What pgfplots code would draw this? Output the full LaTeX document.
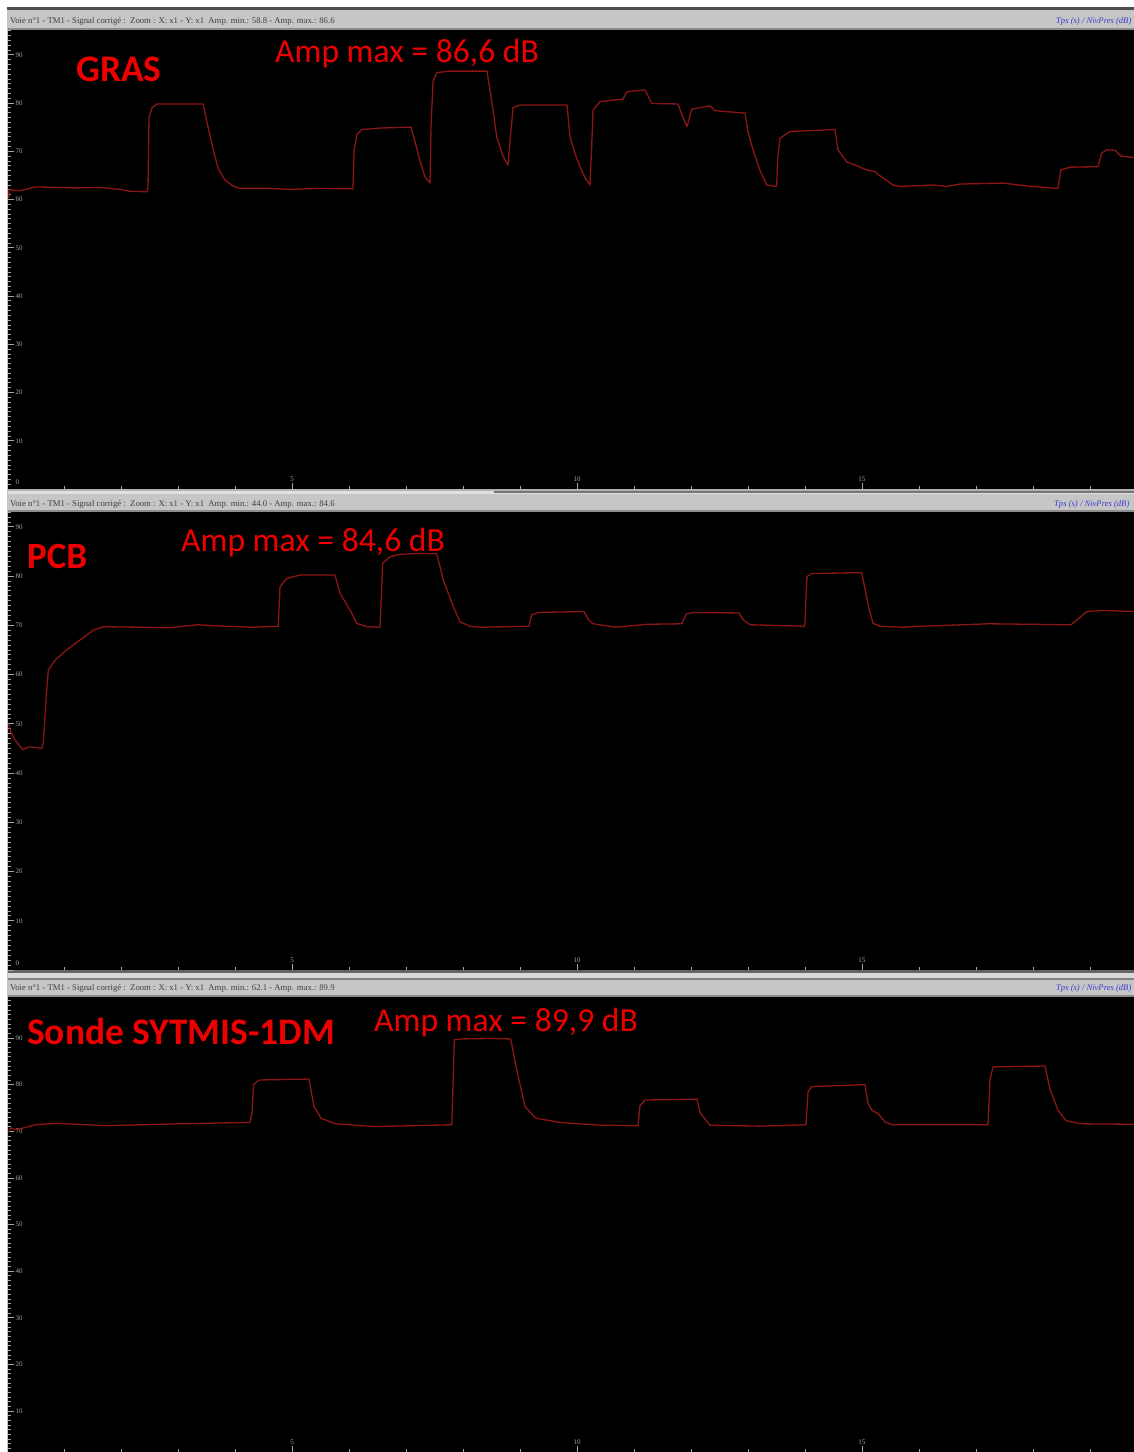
\documentclass[border=0pt]{standalone}
\usepackage{pgfplots}
\pgfplotsset{compat=1.18}
\usepackage{fontspec}
\setmainfont{Liberation Serif}
\newfontfamily\calib{Carlito}

\definecolor{trace}{RGB}{140,22,22}
\definecolor{lbl}{RGB}{238,0,0}
\definecolor{barbg}{RGB}{198,198,198}
\definecolor{tickgray}{RGB}{165,165,165}
\definecolor{hdrblue}{RGB}{60,60,210}

% acquisition window: black screen, ruler ticks on the left and bottom
\pgfplotsset{
  oscillo/.style={
    scale only axis, width=1126pt,
    xmin=0.0175, xmax=19.772,
    axis background/.style={fill=black},
    axis x line*=bottom, axis y line*=left,
    axis line style={draw=none},
    tick align=inside,
    xtick={5,10,15}, minor xtick={1,2,...,19},
    ytick={10,20,...,90}, minor ytick={1,2,...,99},
    major tick length=6pt, minor tick length=3pt,
    every tick/.style={draw=tickgray, line width=0.7pt},
    tick label style={font=\fontsize{7}{8}\selectfont, text=tickgray},
    /pgf/number format/assume math mode=true,
    yticklabel style={anchor=west, xshift=4pt},
    xticklabel style={anchor=south, yshift=4pt},
    clip=true,
  },
  zerolabel/.style={
    extra y ticks={0},
    extra y tick style={yticklabel style={anchor=south west, yshift=1pt}},
  },
  sig/.style={trace, line width=1.3pt, line join=round},
}

\begin{document}
\begin{tikzpicture}[x=1pt,y=1pt]
\path[use as bounding box] (0,0) rectangle (1134,1452);
\clip (0,0) rectangle (1134,1452);
\fill[white] (0,0) rectangle (1134,1452);
\fill[gray!45] (6.5,0) rectangle (8.5,1444);

% window title bars
\fill[black!70] (7,1442) rectangle (1134,1444.5);
\fill[barbg] (8,1422) rectangle (1134,1442);
\fill[black!45] (8,1422) rectangle (1134,1424);

\fill[gray!60] (8,961) rectangle (1134,963);
\fill[gray!25] (8,958) rectangle (1134,961);
\fill[black!55] (494,958.5) rectangle (1134,960.5);
\fill[barbg] (8,942) rectangle (1134,958);
\fill[black!45] (8,940) rectangle (1134,942);

\fill[black!60] (8,479) rectangle (1134,482);
\fill[gray!30] (8,474) rectangle (1134,479);
\fill[black!50] (8,472) rectangle (1134,474);
\fill[barbg] (8,457) rectangle (1134,472);
\fill[black!45] (8,455) rectangle (1134,457);

\begin{scope}[every node/.style={inner sep=0pt, anchor=base west}]
\node[font=\fontsize{8.7}{10}\selectfont, text=black!75] at (10,1428)
  {Voie n°1 - TM1 - Signal corrigé :\ \ Zoom : X: x1 - Y: x1\ \ Amp. min.: 58.8 - Amp. max.: 86.6};
\node[font=\fontsize{8.7}{10}\selectfont, text=black!75] at (10,945)
  {Voie n°1 - TM1 - Signal corrigé :\ \ Zoom : X: x1 - Y: x1\ \ Amp. min.: 44.0 - Amp. max.: 84.6};
\node[font=\fontsize{8.7}{10}\selectfont, text=black!75] at (10,461)
  {Voie n°1 - TM1 - Signal corrigé :\ \ Zoom : X: x1 - Y: x1\ \ Amp. min.: 62.1 - Amp. max.: 89.9};
\node[font=\fontsize{8.6}{10}\selectfont\itshape, text=hdrblue] at (1056,1428) {Tps (s) / NivPres (dB)};
\node[font=\fontsize{8.6}{10}\selectfont\itshape, text=hdrblue] at (1054,945) {Tps (s) / NivPres (dB)};
\node[font=\fontsize{8.6}{10}\selectfont\itshape, text=hdrblue] at (1056,461) {Tps (s) / NivPres (dB)};
\end{scope}

% ---- GRAS ----
\begin{axis}[oscillo, zerolabel, at={(8pt,963pt)}, anchor=south west,
  height=459pt, ymin=0, ymax=95.13]
\addplot[sig] coordinates {
 (0.030,60.3) (0.035,62.0) (0.228,61.8) (0.491,62.6) (0.930,62.5) (1.193,62.4)
 (1.632,62.5) (1.982,62.1) (2.158,61.7) (2.456,61.6) (2.474,62.5) (2.491,77.0)
 (2.544,79.0) (2.632,79.8) (3.439,79.8) (3.526,75.1) (3.614,70.5) (3.702,66.5)
 (3.825,64.0) (3.965,62.8) (4.088,62.3) (4.614,62.3) (4.965,62.1) (5.491,62.3)
 (6.070,62.2) (6.088,70.0) (6.140,73.5) (6.228,74.5) (6.544,74.8) (7.088,75.0)
 (7.158,72.0) (7.246,68.0) (7.333,64.7) (7.421,63.4) (7.439,75.0) (7.474,84.5)
 (7.544,86.3) (7.772,86.6) (8.421,86.6) (8.509,80.0) (8.591,73.0) (8.702,69.0)
 (8.789,67.1) (8.825,72.0) (8.877,79.0) (9.000,79.6) (9.825,79.6) (9.877,73.0)
 (9.965,69.5) (10.053,66.8) (10.140,64.5) (10.228,63.0) (10.254,70.0) (10.281,78.5)
 (10.404,80.3) (10.807,80.8) (10.872,82.3) (11.193,82.7) (11.246,81.5) (11.311,79.9)
 (11.772,79.8) (11.842,77.5) (11.930,75.1) (12.012,78.7) (12.333,79.4) (12.421,78.4)
 (12.947,77.9) (13.000,74.0) (13.088,70.3) (13.211,66.0) (13.328,63.0) (13.504,62.7)
 (13.518,68.0) (13.561,72.7) (13.737,74.1) (14.526,74.5) (14.579,70.3) (14.732,67.8)
 (14.930,66.9) (15.082,66.1) (15.228,65.8) (15.316,64.9) (15.544,63.0) (15.667,62.7)
 (16.246,63.0) (16.486,62.7) (16.719,63.2) (17.474,63.4) (17.889,62.8) (18.439,62.3)
 (18.486,66.1) (18.649,66.7) (19.140,66.8) (19.205,69.6) (19.293,70.3) (19.439,70.2)
 (19.544,69.0) (19.772,68.7)
};
\end{axis}

% ---- PCB ----
\begin{axis}[oscillo, zerolabel, at={(8pt,482pt)}, anchor=south west,
  height=458pt, ymin=0, ymax=93.0]
\addplot[sig] coordinates {
 (0.030,50.0) (0.053,48.7) (0.140,46.7) (0.281,44.7) (0.368,45.3) (0.491,45.2)
 (0.609,45.0) (0.637,46.0) (0.684,55.0) (0.725,60.9) (0.842,62.9) (1.047,65.0)
 (1.281,67.0) (1.514,69.0) (1.689,69.7) (2.333,69.6) (2.860,69.5) (3.328,70.1)
 (3.825,69.8) (4.321,69.6) (4.760,69.8) (4.789,77.8) (4.907,79.5) (5.140,80.2)
 (5.754,80.2) (5.842,76.5) (6.018,73.1) (6.135,70.4) (6.311,69.7) (6.544,69.6)
 (6.591,82.6) (6.719,83.9) (6.895,84.4) (7.246,84.6) (7.539,84.5) (7.654,79.2)
 (7.830,73.8) (7.947,70.7) (8.123,69.8) (8.298,69.6) (9.158,69.8) (9.202,72.1)
 (9.323,72.6) (10.123,72.8) (10.202,71.1) (10.281,70.3) (10.681,69.6) (11.240,70.2)
 (11.839,70.3) (11.919,72.3) (12.035,72.6) (12.839,72.5) (12.918,71.1) (13.035,70.1)
 (13.996,69.8) (14.035,79.9) (14.116,80.5) (14.995,80.7) (15.114,73.8) (15.193,70.4)
 (15.316,69.8) (15.714,69.6) (16.035,69.8) (17.228,70.3) (18.667,70.1) (18.947,72.8)
 (19.228,73.0) (19.772,72.8)
};
\end{axis}

% ---- Sonde SYTMIS-1DM ----
\begin{axis}[oscillo, at={(8pt,0pt)}, anchor=south west,
  height=455pt, ymin=1.2, ymax=98.8]
\addplot[sig] coordinates {
 (0.030,69.8) (0.065,70.7) (0.158,70.3) (0.504,71.4) (0.877,71.7) (1.754,71.2)
 (3.011,71.6) (4.263,71.9) (4.298,74.0) (4.326,80.0) (4.421,81.0) (5.298,81.2)
 (5.386,75.3) (5.509,72.8) (5.767,71.6) (6.456,71.0) (7.804,71.4) (7.825,80.0)
 (7.847,89.6) (7.960,89.8) (8.474,89.9) (8.837,89.8) (8.930,83.9) (9.088,75.3)
 (9.275,72.8) (9.702,71.9) (10.404,71.3) (11.070,71.2) (11.105,75.5) (11.193,76.7)
 (12.105,76.9) (12.158,74.0) (12.333,71.3) (13.211,71.1) (14.018,71.4) (14.053,78.5)
 (14.123,79.6) (14.614,79.8) (15.053,80.0) (15.105,76.0) (15.175,74.5) (15.281,73.8)
 (15.404,72.0) (15.526,71.4) (17.211,71.4) (17.246,81.0) (17.298,83.8) (18.211,84.0)
 (18.298,79.0) (18.439,74.5) (18.579,72.3) (18.825,71.6) (19.772,71.5)
};
\end{axis}

% channel names and peak levels
\begin{scope}[every node/.style={inner sep=0pt, anchor=base west, text=lbl}]
\node[font=\calib\bfseries\fontsize{37.5}{40}\selectfont] at (76,1370.3) {GRAS};
\node[font=\calib\fontsize{33.6}{36}\selectfont] at (275,1389.5) {Amp max = 86,6 dB};
\node[font=\calib\bfseries\fontsize{37}{40}\selectfont] at (27,883) {PCB};
\node[font=\calib\fontsize{33.6}{36}\selectfont] at (181,900.3) {Amp max = 84,6 dB};
\node[font=\calib\bfseries\fontsize{37.5}{40}\selectfont] at (27,407) {Sonde SYTMIS-1DM};
\node[font=\calib\fontsize{33.6}{36}\selectfont] at (374,420.3) {Amp max = 89,9 dB};
\end{scope}
\end{tikzpicture}
\end{document}
